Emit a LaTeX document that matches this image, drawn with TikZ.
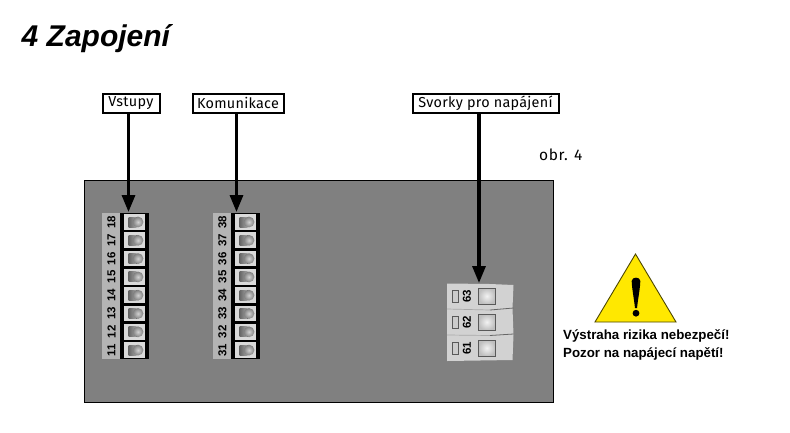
\documentclass[tikz,border=0pt]{standalone}
\usepackage{fontspec}
\setmainfont{Liberation Sans}
\newfontfamily\labelfont[LetterSpace=2]{Fira Sans}
\newfontfamily\obrfont[LetterSpace=4]{Fira Sans}
\usetikzlibrary{arrows.meta}
\definecolor{plate}{HTML}{808080}
\definecolor{strip}{HTML}{B4B4B4}
\definecolor{cellc}{HTML}{DADADA}
\definecolor{powerc}{HTML}{D2D2D2}
\definecolor{warn}{HTML}{FFE800}
\tikzset{
  tag/.style={draw=black,line width=2pt,fill=white,inner sep=0pt,minimum height=19pt,font=\labelfont\fontsize{14.4}{14.4}\selectfont,text=black,anchor=north west},
  feed/.style={line width=3.2pt,-{Triangle[width=13pt,length=17pt]}},
  pinno/.style={font=\bfseries\fontsize{11.5}{11.5}\selectfont,rotate=90,inner sep=0pt},
  warntext/.style={font=\bfseries\fontsize{13.3}{17.5}\selectfont,align=left,anchor=north west,inner sep=0pt}
}
\newcommand{\termblock}[3]{% x offset, first number
  \fill[strip] (#1,213) rectangle (#1+18.5,359);
  \fill[black] (#1+18.5,212.5) rectangle (#1+47.5,359);
  \foreach \i in {0,...,7}{
    \pgfmathsetmacro{\yy}{214+18.3*\i}
    \pgfmathtruncatemacro{\nn}{#2-\i}
    \fill[cellc] (#1+22.5,\yy) rectangle (#1+43.5,\yy+15.8);
    \fill[left color=black!60,right color=black!35] (#1+27,\yy+3) rectangle (#1+35,\yy+13);
    \shade[inner color=black!18,outer color=black!50] (#1+36.5,\yy+8) circle (5.4pt);
    \node[pinno] (#3\nn) at (#1+10,\yy+8) {\nn};
  }
}
\begin{document}
\begin{tikzpicture}[x=1pt,y=-1pt]
\useasboundingbox (0,0) rectangle (790,432);
\fill[white] (0,0) rectangle (790,432);
\node[anchor=base west,inner sep=0pt,font=\bfseries\itshape\fontsize{30}{30}\selectfont] (title) at (21.5,46) {4 Zapojení};
\node[draw=black,line width=1.2pt,fill=plate,minimum width=469pt,minimum height=222pt,inner sep=0pt,anchor=north west] (plate) at (84,180) {};
\termblock{101.5}{18}{a}
\termblock{212.5}{38}{b}
% power terminals
\fill[powerc] (447,283.5) -- (490,284) -- (513.5,285) -- (512.5,308) -- (513.5,335) -- (512.5,360) -- (447,361) -- cycle;
\draw[gray!50!powerc,line width=.7pt] (447,309) -- (490,310);
\draw[gray!80!black,line width=.8pt] (490,310) -- (513.5,308);
\draw[gray!50!powerc,line width=.7pt] (447,335) -- (490,335.5);
\draw[gray!80!black,line width=.8pt] (490,335.5) -- (513.5,334);
\foreach \yy/\nn in {288/63,314/62,340/61}{
  \draw[gray!70!black,fill=gray!40,line width=.8pt] (452.5,\yy+2.5) rectangle (458,\yy+14);
  \node[pinno] (p\nn) at (467,\yy+8) {\nn};
  \draw[gray!70!black,line width=1pt,inner color=gray!10,outer color=gray!50] (478.5,\yy) rectangle (495,\yy+16);
}
\coordinate (aend) at (128.5,212);
\coordinate (bend) at (236.5,212);
\coordinate (cend) at (479,283);
\node[tag,minimum width=57pt] (vst) at (101.5,92.5) {Vstupy};
\node[tag,minimum width=91pt] (kom) at (191.5,92.5) {Komunikace};
\node[tag,minimum width=146pt] (svo) at (411.5,92.5) {Svorky pro napájení};
\draw[feed] (vst.south -| aend) -- (aend);
\draw[feed] (kom.south -| bend) -- (bend);
\draw[feed] (svo.south -| cend) -- (cend);
\node[anchor=base west,inner sep=0pt,font=\obrfont\fontsize{15.5}{15.5}\selectfont] (obr) at (539,160) {obr. 4};
% warning sign
\draw[fill=warn,draw=black!70!warn,line width=.9pt,line join=miter] (635.5,254) -- (676,322) -- (595,322) -- cycle;
\fill[black] (631.7,281) .. controls (631.7,276.5) and (640.3,276.5) .. (640.3,281) .. controls (640.3,287) and (638,299) .. (637,308) -- (635,308) .. controls (634,299) and (631.7,287) .. (631.7,281) -- cycle;
\fill[black] (636,313.2) circle (3.4pt);
\node[warntext] (wt) at (563,329.5) {Výstraha rizika nebezpečí!\\Pozor na napájecí napětí!};
\end{tikzpicture}
\end{document}
